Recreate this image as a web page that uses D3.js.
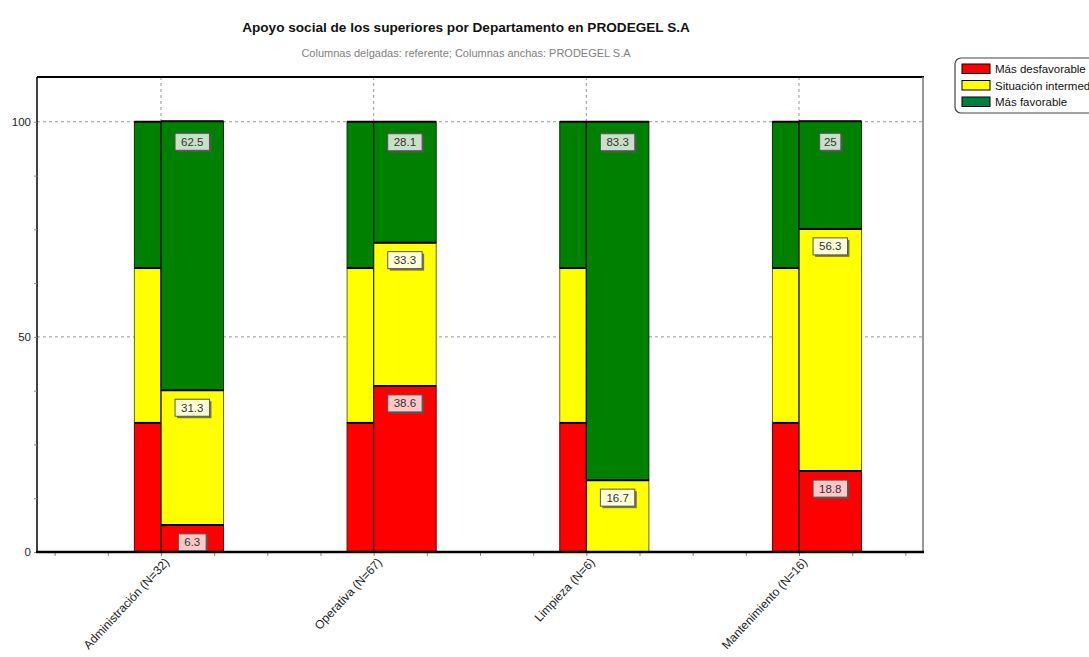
<!DOCTYPE html>
<html><head><meta charset="utf-8">
<script src="https://cdn.jsdelivr.net/npm/d3@7"></script>
<style>
html,body{margin:0;padding:0;background:#fff;}
svg{display:block;font-family:"Liberation Sans",Arial,sans-serif;}
</style></head>
<body><svg id="c" width="1089" height="657"></svg>
<script>
// ---- data ----
const categories = ["Administración (N=32)", "Operativa (N=67)", "Limpieza (N=6)", "Mantenimiento (N=16)"];
const seriesNames = ["Más desfavorable", "Situación intermedia", "Más favorable"];
const seriesColors = ["#ff0000", "#ffff00", "#008000"];
const legendColors = ["#ff0000", "#ffff00", "#008040"];
const labelBg = ["#ffc8c8", "#ffffd8", "#c8dfc8"];
// referente (thin columns)
const refDesfavorable = [30, 30, 30, 30];
const refIntermedia = [36, 36, 36, 36];
const refFavorable = [34, 34, 34, 34];
// PRODEGEL S.A (wide columns)
const desfavorable = [6.3, 38.6, 0, 18.8];
const intermedia = [31.3, 33.3, 16.7, 56.3];
const favorable = [62.5, 28.1, 83.3, 25];
const yTickValues = [0, 50, 100];
const title = "Apoyo social de los superiores por Departamento en PRODEGEL S.A";
const subtitle = "Columnas delgadas: referente; Columnas anchas: PRODEGEL S.A";

const svg = d3.select("#c");
const L = 37, R = 923, T = 77, B = 552;
const x = d3.scaleLinear().domain([-0.583, 3.583]).range([L, R]);
const y = d3.scaleLinear().domain([0, 110.4]).range([B, T]);

// title
svg.append("text").attr("x", 466).attr("y", 32).attr("text-anchor", "middle")
  .attr("font-size", 13.6).attr("font-weight", "bold").attr("fill", "#111").text(title);
svg.append("text").attr("x", 466).attr("y", 57).attr("text-anchor", "middle")
  .attr("font-size", 11).attr("fill", "#808080").text(subtitle);

// grid
const g = svg.append("g");
g.selectAll(".hg").data([50, 100]).join("line")
  .attr("x1", L).attr("x2", R).attr("y1", d => y(d)).attr("y2", d => y(d))
  .attr("stroke", "#999").attr("stroke-dasharray", "3,3");
g.selectAll(".vg").data(categories.map((c, i) => i)).join("line")
  .attr("x1", d => x(d)).attr("x2", d => x(d)).attr("y1", T).attr("y2", B)
  .attr("stroke", "#999").attr("stroke-dasharray", "3,3");

// stacks
function buildRows(a, b, c) {
  return categories.map((cat, i) => ({ i, s0: a[i], s1: b[i], s2: c[i] }));
}
const stack = d3.stack().keys(["s0", "s1", "s2"]);
const refStack = stack(buildRows(refDesfavorable, refIntermedia, refFavorable));
const mainStack = stack(buildRows(desfavorable, intermedia, favorable));

function drawBars(stacked, off0, off1, cls) {
  stacked.forEach((layer, k) => {
    const fill = seriesColors[k];
    const stroke = k === 1 ? "#6b6b00" : d3.color(fill).darker(2.5).formatHex();
    const sel = svg.append("g").attr("class", cls);
    sel.selectAll("rect").data(layer.filter(d => d[1] - d[0] > 0)).join("rect")
      .attr("x", d => x(d.data.i + off0)).attr("width", d => x(d.data.i + off1) - x(d.data.i + off0))
      .attr("y", d => y(d[1])).attr("height", d => y(d[0]) - y(d[1]))
      .attr("fill", fill).attr("stroke", stroke).attr("stroke-width", 1);
  });
  const sep = svg.append("g");
  stacked.forEach(layer => {
    sep.selectAll(null).data(layer.filter(d => d[1] - d[0] > 0)).join("line")
      .attr("x1", d => x(d.data.i + off0)).attr("x2", d => x(d.data.i + off1))
      .attr("y1", d => y(d[1])).attr("y2", d => y(d[1]))
      .attr("stroke", "#000").attr("stroke-width", 2);
  });
}
drawBars(refStack, -0.125, 0, "ref");
drawBars(mainStack, 0, 0.294, "main");
svg.append("g").selectAll("line").data(categories.map((c, i) => i)).join("line")
  .attr("x1", d => x(d)).attr("x2", d => x(d)).attr("y1", y(100)).attr("y2", B)
  .attr("stroke", "#111").attr("stroke-width", 1);

// value labels
const lab = svg.append("g");
mainStack.forEach((layer, k) => {
  layer.filter(d => d[1] - d[0] > 0).forEach(d => {
    const v = d[1] - d[0];
    const txt = String(Math.round(v * 10) / 10);
    const cx = x(d.data.i + 0.147);
    const top = y(d[1]) + (d[1] >= 99.9 ? 12 : 9);
    const w = txt.length * 6.6 + 8, h = 17;
    lab.append("rect").attr("x", cx - w / 2 + 2).attr("y", top + 2).attr("width", w).attr("height", h)
      .attr("fill", "#555").attr("opacity", 0.8);
    lab.append("rect").attr("x", cx - w / 2).attr("y", top).attr("width", w).attr("height", h)
      .attr("fill", labelBg[k]).attr("stroke", "#555").attr("stroke-width", 1);
    lab.append("text").attr("x", cx).attr("y", top + 12.5).attr("text-anchor", "middle")
      .attr("font-size", 11.5).attr("fill", "#333").text(txt);
  });
});

// frame
svg.append("line").attr("x1", L).attr("x2", R + 1).attr("y1", T).attr("y2", T).attr("stroke", "#000").attr("stroke-width", 2);
svg.append("line").attr("x1", R).attr("x2", R).attr("y1", T).attr("y2", B).attr("stroke", "#777").attr("stroke-width", 1.5);
svg.append("line").attr("x1", L).attr("x2", L).attr("y1", T).attr("y2", B).attr("stroke", "#000").attr("stroke-width", 1.5);

// y axis
const yAxis = d3.axisLeft(y).tickValues(d3.range(0, 100.1, 12.5)).tickSize(3).tickFormat(d => yTickValues.includes(d) ? d : "");
const ya = svg.append("g").attr("transform", `translate(${L},0)`).call(yAxis);
ya.select(".domain").remove();
ya.selectAll("line").attr("stroke", "#888");
ya.selectAll("text").attr("font-size", 11.5).attr("fill", "#222").attr("x", -6)
  .attr("font-family", "Liberation Sans, Arial, sans-serif");

// x axis
const xAxis = d3.axisBottom(x).tickValues(d3.range(-0.5, 3.51, 0.25)).tickSize(4).tickFormat("");
const xa = svg.append("g").attr("transform", `translate(0,${B})`).call(xAxis);
xa.select(".domain").remove();
xa.selectAll("line").attr("stroke", "#888");
svg.append("line").attr("x1", L - 1).attr("x2", R + 1).attr("y1", B).attr("y2", B).attr("stroke", "#000").attr("stroke-width", 2.5);

svg.append("g").selectAll("text").data(categories).join("text")
  .attr("transform", (d, i) => `translate(${x(i) + 6},${B + 8}) rotate(-47)`)
  .attr("text-anchor", "end").attr("dy", "0.35em")
  .attr("font-size", 12).attr("fill", "#222").text(d => d);

// legend
const lg = svg.append("g");
lg.append("rect").attr("x", 955).attr("y", 58).attr("width", 150).attr("height", 55).attr("rx", 6)
  .attr("fill", "#fff").attr("stroke", "#444").attr("stroke-width", 1.2);
seriesNames.forEach((n, k) => {
  const yy = 64 + k * 16.5;
  lg.append("rect").attr("x", 962).attr("y", yy).attr("width", 28).attr("height", 9.5)
    .attr("fill", legendColors[k]).attr("stroke", "#000").attr("stroke-width", 1);
  lg.append("text").attr("x", 995).attr("y", yy + 9).attr("font-size", 11.5).attr("fill", "#111").text(n);
});
</script></body></html>
